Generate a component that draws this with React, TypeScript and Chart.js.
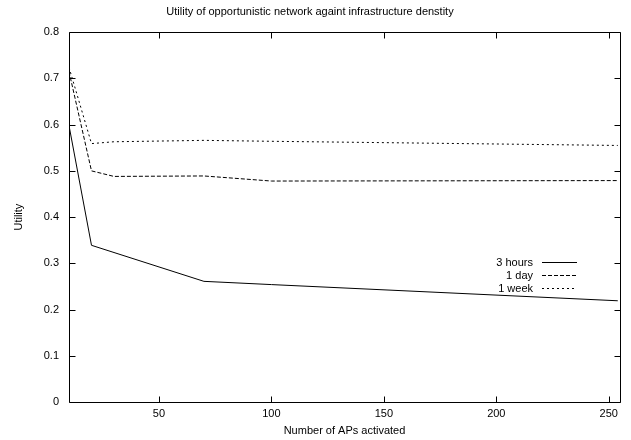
import React, { useEffect, useRef } from "react";
import { Chart, registerables } from "chart.js";

Chart.register(...registerables);

const chartTitle = "Utility of opportunistic network againt infrastructure denstity";
const xAxisTitle = "Number of APs activated";
const yAxisTitle = "Utility";

const xTickValues = [50, 100, 150, 200, 250];
const yTickValues = [0, 0.1, 0.2, 0.3, 0.4, 0.5, 0.6, 0.7, 0.8];
const xMin = 10;
const xMax = 255;
const yMin = 0;
const yMax = 0.8;

const seriesNames = ["3 hours", "1 day", "1 week"];

const hours3X = [10, 20, 70, 100, 254];
const hours3Y = [0.598, 0.339, 0.261, 0.254, 0.219];

const day1X = [10, 20, 30, 70, 100, 254];
const day1Y = [0.715, 0.5, 0.488, 0.489, 0.478, 0.479];

const week1X = [10, 20, 30, 70, 100, 254];
const week1Y = [0.724, 0.559, 0.563, 0.566, 0.564, 0.555];

const FONT = "'Liberation Sans', Arial, Helvetica, sans-serif";
const dashes: number[][] = [[], [4, 2], [2, 3]];

const framePlugin = {
  id: "gnuplotFrame",
  afterDatasetsDraw(chart: any) {
    const { ctx, chartArea, scales } = chart;
    const { left, right, top, bottom } = chartArea;
    const x = scales.x;
    const y = scales.y;
    ctx.save();
    ctx.strokeStyle = "#000";
    ctx.lineWidth = 1;
    ctx.setLineDash([]);
    const L = Math.round(left) + 0.5;
    const R = Math.round(right) + 0.5;
    const T = Math.round(top) + 0.5;
    const B = Math.round(bottom) + 0.5;
    ctx.beginPath();
    ctx.rect(L, T, R - L, B - T);
    ctx.stroke();
    const tl = 6;
    ctx.beginPath();
    for (const v of xTickValues) {
      const px = Math.round(x.getPixelForValue(v)) + 0.5;
      ctx.moveTo(px, B);
      ctx.lineTo(px, B - tl);
      ctx.moveTo(px, T);
      ctx.lineTo(px, T + tl);
    }
    for (const v of yTickValues) {
      const py = Math.round(y.getPixelForValue(v)) + 0.5;
      ctx.moveTo(L, py);
      ctx.lineTo(L + tl, py);
      ctx.moveTo(R, py);
      ctx.lineTo(R - tl, py);
    }
    ctx.stroke();

    // legend (gnuplot style, inside plot, right side)
    ctx.font = `11px ${FONT}`;
    ctx.fillStyle = "#000";
    ctx.textAlign = "right";
    ctx.textBaseline = "middle";
    const datasets = chart.data.datasets;
    datasets.forEach((ds: any, i: number) => {
      const ly = Math.round(top + 230 + i * 13) + 0.5;
      ctx.fillText(ds.label, right - 87, ly);
      ctx.beginPath();
      ctx.setLineDash(ds.borderDash || []);
      ctx.strokeStyle = ds.borderColor;
      ctx.moveTo(right - 78, ly);
      ctx.lineTo(right - 43, ly);
      ctx.stroke();
    });
    ctx.restore();
  },
};

function toPoints(xs: number[], ys: number[]) {
  return xs.map((xv, i) => ({ x: xv, y: ys[i] }));
}

export default function App() {
  const canvasRef = useRef<HTMLCanvasElement | null>(null);

  useEffect(() => {
    document.body.style.margin = "0";
    const canvas = canvasRef.current;
    if (!canvas) return;
    const seriesX = [hours3X, day1X, week1X];
    const seriesY = [hours3Y, day1Y, week1Y];
    const chart = new Chart(canvas, {
      type: "line",
      data: {
        datasets: seriesNames.map((name, i) => ({
          label: name,
          data: toPoints(seriesX[i], seriesY[i]),
          borderColor: "#000",
          borderWidth: 1,
          borderDash: dashes[i],
          pointRadius: 0,
          fill: false,
          tension: 0,
        })),
      },
      options: {
        responsive: false,
        animation: false,
        maintainAspectRatio: false,
        layout: { padding: { left: 0, right: 11, top: 0, bottom: 0 } },
        plugins: {
          legend: { display: false },
          tooltip: { enabled: false },
          title: {
            display: true,
            text: chartTitle,
            color: "#000",
            font: { family: FONT, size: 11, weight: "normal" },
            padding: { top: 5, bottom: 14 },
          },
        },
        scales: {
          x: {
            type: "linear",
            min: xMin,
            max: xMax,
            afterBuildTicks: (scale: any) => {
              scale.ticks = xTickValues.map((v) => ({ value: v }));
            },
            afterFit: (scale: any) => {
              scale.height = 38;
            },
            grid: { display: false, drawTicks: false },
            border: { display: false },
            ticks: {
              color: "#000",
              font: { family: FONT, size: 11 },
              padding: 5,
              maxRotation: 0,
              autoSkip: false,
              callback: (v: any) => String(v),
            },
            title: {
              display: true,
              text: xAxisTitle,
              color: "#000",
              font: { family: FONT, size: 11 },
              padding: { top: 2, bottom: 2 },
            },
          },
          y: {
            type: "linear",
            min: yMin,
            max: yMax,
            afterBuildTicks: (scale: any) => {
              scale.ticks = yTickValues.map((v) => ({ value: v }));
            },
            afterFit: (scale: any) => {
              scale.width = 69;
            },
            grid: { display: false, drawTicks: false },
            border: { display: false },
            ticks: {
              color: "#000",
              font: { family: FONT, size: 11 },
              padding: 10,
              autoSkip: false,
              callback: (v: any) => String(Math.round(Number(v) * 10) / 10),
            },
            title: {
              display: true,
              text: yAxisTitle,
              color: "#000",
              font: { family: FONT, size: 11 },
              padding: { top: 12, bottom: 0 },
            },
          },
        },
      },
      plugins: [framePlugin],
    } as any);
    return () => chart.destroy();
  }, []);

  return (
    <div style={{ position: "absolute", left: 0, top: 0, width: 631, height: 440, background: "#fff" }}>
      <canvas ref={canvasRef} width={631} height={440} style={{ width: 631, height: 440 }} />
    </div>
  );
}
